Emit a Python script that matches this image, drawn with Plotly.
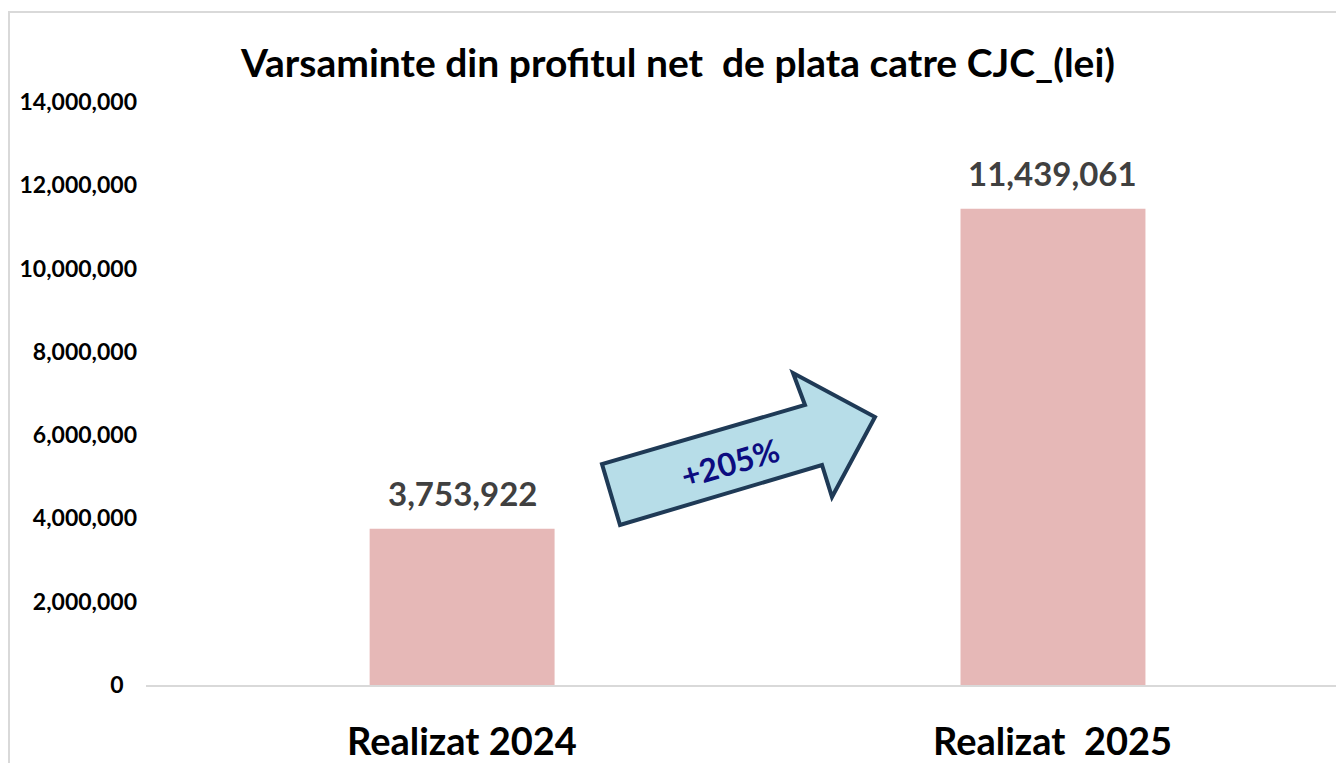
import plotly.graph_objects as go

# Chart data
categories = ["Realizat 2024", "Realizat  2025"]
values = [3753922, 11439061]
growth_label = "+205%"
y_ticks = [0, 2000000, 4000000, 6000000, 8000000, 10000000, 12000000, 14000000]

W, H = 1336, 763
FONT = "Lato"


def px(x):
    return x / W


def py(y):
    return 1 - y / H


tick_text = [f"{v:,}" if v else "0\u2007" for v in y_ticks]

fig = go.Figure()
fig.add_trace(go.Bar(
    x=[0, 1],
    y=values,
    width=0.313,
    marker=dict(color="#e6b8b7", line=dict(width=0)),
    hoverinfo="skip",
))

# Value labels above the bars
for i, v in enumerate(values):
    fig.add_annotation(
        x=i, y=v, xref="x", yref="y",
        text=f"{v:,}", showarrow=False,
        yanchor="bottom", yshift=14,
        font=dict(family=FONT, size=33, color="#404040", weight="bold"),
    )

# Category labels under the axis
for i, c in enumerate(categories):
    fig.add_annotation(
        x=i, y=py(740), xref="x", yref="paper",
        text=c, showarrow=False,
        yanchor="middle",
        font=dict(family=FONT, size=38, color="#000000", weight="bold"),
    )

# Growth arrow
arrow_pts = [(620, 525), (602, 464), (805, 405), (793, 373),
             (875, 417), (832, 497), (822, 465)]
path = "M " + " L ".join(f"{px(a):.5f},{py(b):.5f}" for a, b in arrow_pts) + " Z"
fig.add_shape(type="path", path=path, xref="paper", yref="paper",
              fillcolor="#b7dde8", line=dict(color="#1f3a56", width=4),
              layer="above")
fig.add_annotation(
    x=px(730), y=py(463), xref="paper", yref="paper",
    text=growth_label, showarrow=False, textangle=-16,
    font=dict(family=FONT, size=32, color="#0c0c80", weight="bold"),
)

# Chart frame
fig.add_shape(type="rect", xref="paper", yref="paper",
              x0=px(9), x1=1.02, y0=-0.02, y1=py(12),
              line=dict(color="#d9d9d9", width=2), fillcolor="rgba(0,0,0,0)",
              layer="below")

fig.update_layout(
    width=W, height=H,
    margin=dict(l=0, r=0, t=0, b=0, autoexpand=False),
    paper_bgcolor="white", plot_bgcolor="white",
    showlegend=False,
    title=dict(
        text="Varsaminte din profitul net  de plata catre CJC_(lei)",
        x=px(678), xanchor="center", y=py(63), yanchor="middle",
        font=dict(family=FONT, size=39, color="#000000", weight="bold"),
    ),
    xaxis=dict(
        domain=[px(146), 1], range=[-0.535, 1.479], automargin=False,
        showticklabels=False, showgrid=False, zeroline=False,
        showline=True, linecolor="#d9d9d9", linewidth=2, fixedrange=True,
    ),
    yaxis=dict(
        domain=[py(685), py(102)], range=[0, 14000000], automargin=False,
        tickvals=y_ticks, ticktext=tick_text,
        showgrid=False, zeroline=False, showline=False,
        ticks="", ticklabelstandoff=8,
        tickfont=dict(family=FONT, size=23, color="#000000", weight="bold"),
    ),
)

fig.write_html("out.html")
